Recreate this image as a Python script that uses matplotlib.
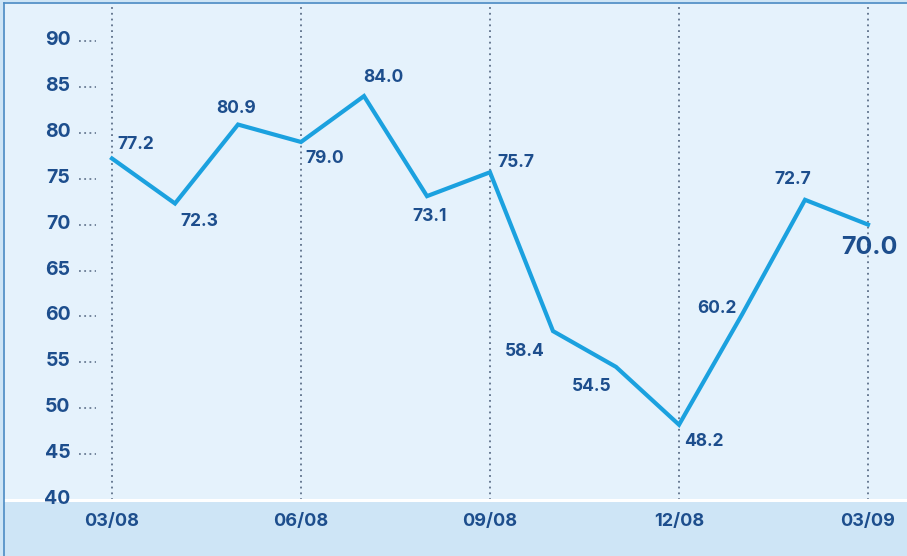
import numpy as np
import matplotlib
matplotlib.use('Agg')
import matplotlib.pyplot as plt
from matplotlib.lines import Line2D

# monthly values, Mar 2008 .. Mar 2009
months = list(range(13))
values = [77.2, 72.3, 80.9, 79.0, 84.0, 73.1, 75.7, 58.4, 54.5, 48.2, 60.2, 72.7, 70.0]
tick_months = [0, 3, 6, 9, 12]
tick_labels = ['03/08', '06/08', '09/08', '12/08', '03/09']
y_ticks = [40, 45, 50, 55, 60, 65, 70, 75, 80, 85, 90]

# label placement (pixel offsets, alignment)
label_style = [
    (5, 6, 'left', 'bottom'),
    (5, -10, 'left', 'top'),
    (-2, 8, 'center', 'bottom'),
    (4, -8, 'left', 'top'),
    (-1, 10, 'left', 'bottom'),
    (3, -12, 'center', 'top'),
    (7, 1, 'left', 'bottom'),
    (-8, -12, 'right', 'top'),
    (-5, -11, 'right', 'top'),
    (5, -8, 'left', 'top'),
    (-5, -2, 'right', 'bottom'),
    (-12, 12, 'center', 'bottom'),
    (1, -11, 'center', 'top'),
]

txt_col = '#1d4e8d'
line_col = '#1ba1df'
bg_col = '#e5f2fc'
band_col = '#cee5f6'
font = 'Inter'

fig = plt.figure(figsize=(9.07, 5.56), dpi=100, facecolor=band_col)
W, H = 907, 556
ax = fig.add_axes([5 / W, 56 / H, 902 / W, 496 / H])
ax.set_facecolor(bg_col)

px = 63.0
ax.set_xlim(-107 / px, (902 - 107) / px)
ppu = 459 / 50.0
ax.set_ylim(40, 40 + 496 / ppu)

for s in ['left', 'right', 'top']:
    ax.spines[s].set_visible(False)
ax.spines['bottom'].set_color('white')
ax.spines['bottom'].set_linewidth(2.2)

# vertical dotted grid
ax.vlines(tick_months, 40, 100, colors='#5d7089', linestyles=(0, (1, 2.2)), linewidth=1.3, zorder=1)

# y tick labels with little dotted leaders
for v in y_ticks:
    ax.text(-0.66, v + 0.1, str(v), ha='right', va='center', color=txt_col, fontsize=14,
            fontweight='bold', family=font)
    if v > 40:
        ax.plot([-0.53, -0.26], [v, v], color='#6a7c94', linestyle=(0, (1, 1.9)), linewidth=1.3)
ax.set_yticks([])

ax.plot(months, values, color=line_col, linewidth=3.0, solid_joinstyle='miter', zorder=3)

for i, (m, v) in enumerate(zip(months, values)):
    dx, dy, ha, va = label_style[i]
    big = i == len(values) - 1
    ax.annotate(f'{v:.1f}', (m, v), xytext=(dx, dy), textcoords='offset pixels',
                ha=ha, va=va, color=txt_col, family=font, fontweight='bold',
                fontsize=18 if big else 12.5, zorder=4)

ax.set_xticks(tick_months)
ax.set_xticklabels(tick_labels, color=txt_col, fontsize=13, fontweight='bold', family=font)
ax.tick_params(axis='x', length=0, pad=9)

# thin blue frame on left and top
fig.add_artist(Line2D([3.5 / W, 3.5 / W], [0, 1 - 3 / H], color='#4d8cc4', linewidth=1.2))
fig.add_artist(Line2D([3.5 / W, 1], [1 - 3 / H, 1 - 3 / H], color='#4d8cc4', linewidth=1.2))

fig.savefig('out.png', dpi=100, facecolor=band_col)
